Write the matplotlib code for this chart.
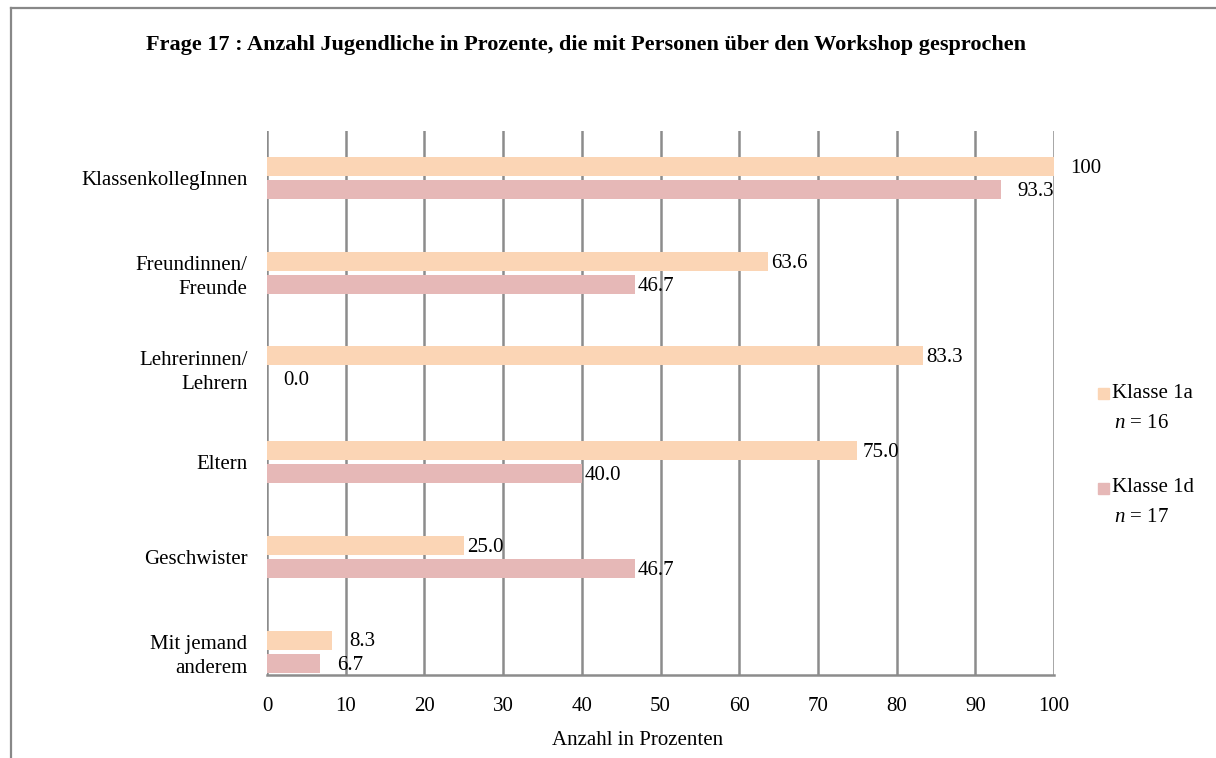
import matplotlib
matplotlib.use("Agg")
import matplotlib.pyplot as plt
from matplotlib.lines import Line2D
from matplotlib.patches import Rectangle
import numpy as np

# Survey answers: share of pupils (in %) who talked with each group about the workshop
categories = ["KlassenkollegInnen", "Freundinnen/\nFreunde", "Lehrerinnen/\nLehrern",
              "Eltern", "Geschwister", "Mit jemand\nanderem"]
klasse_1a = [100, 63.6, 83.3, 75.0, 25.0, 8.3]
klasse_1d = [93.3, 46.7, 0.0, 40.0, 46.7, 6.7]
label_1a = ["100", "63.6", "83.3", "75.0", "25.0", "8.3"]
label_1d = ["93.3", "46.7", "0.0", "40.0", "46.7", "6.7"]
series_names = ["Klasse 1a", "Klasse 1d"]
series_n = [16, 17]
x_ticks = list(range(0, 101, 10))

title = "Frage 17 : Anzahl Jugendliche in Prozente, die mit Personen über den Workshop gesprochen"
x_label = "Anzahl in Prozenten"

# styling
FONT = "Liberation Serif"
C_1A = "#FBD5B5"
C_1D = "#E6B8B7"
GRID = "#8C8C8C"
FS = 15
# horizontal gap (pixels) between bar end and its value label
pad_1a = [16, 4, 4, 5, 3, 17]
pad_1d = [16, 3, 16, 3, 3, 17]

plt.rcParams["font.family"] = [FONT, "DejaVu Serif"]
plt.rcParams["mathtext.fontset"] = "custom"
plt.rcParams["mathtext.rm"] = FONT
plt.rcParams["mathtext.it"] = FONT + ":italic"

W, H = 1216, 758
fig = plt.figure(figsize=(W / 100, H / 100), dpi=100)

# outer chart frame (left and top edges)
fig.add_artist(Line2D([11 / W, 11 / W], [0, 1 - 8 / H], transform=fig.transFigure,
                      color="#888888", lw=1.6))
fig.add_artist(Line2D([11 / W, 1], [1 - 8 / H, 1 - 8 / H], transform=fig.transFigure,
                      color="#888888", lw=1.6))

ax_l, ax_r, ax_t, ax_b = 267, 1054, 131, 675
ax = fig.add_axes([ax_l / W, 1 - ax_b / H, (ax_r - ax_l) / W, (ax_b - ax_t) / H])

y = np.arange(len(categories))
bar_h = 19 / 94.7
gap = 4 / 94.7
y_1a = y - (bar_h + gap) / 2
y_1d = y + (bar_h + gap) / 2

ax.barh(y_1a, klasse_1a, height=bar_h, color=C_1A, zorder=3)
ax.barh(y_1d, klasse_1d, height=bar_h, color=C_1D, zorder=3)

px = 100 / (ax_r - ax_l)  # data units per pixel along x
dy = 2 / 94.7  # nudge labels slightly downward
for yi, v, t, p in zip(y_1a, klasse_1a, label_1a, pad_1a):
    ax.text(v + p * px, yi + dy, t, va="center", ha="left", fontsize=FS, zorder=4)
for yi, v, t, p in zip(y_1d, klasse_1d, label_1d, pad_1d):
    ax.text(v + p * px, yi + dy, t, va="center", ha="left", fontsize=FS, zorder=4)

ax.set_xlim(0, 100)
ax.set_ylim(5 + 23.5 / 94.7, -47 / 94.7)
ax.set_xticks(x_ticks)
ax.set_xticklabels([str(t) for t in x_ticks], fontsize=FS)
ax.set_yticks(y)
ax.set_yticklabels(categories, fontsize=FS, linespacing=1.35)
ax.tick_params(axis="both", length=0)
ax.tick_params(axis="x", pad=16)
ax.tick_params(axis="y", pad=14)

ax.grid(axis="x", color=GRID, lw=1.8, zorder=1)
for s in ["top", "right", "left"]:
    ax.spines[s].set_visible(False)
ax.spines["bottom"].set_color(GRID)
ax.spines["bottom"].set_linewidth(1.8)

ax.set_xlabel(x_label, fontsize=FS)
ax.xaxis.set_label_coords((638 - ax_l) / (ax_r - ax_l), -(731 - ax_b) / (ax_b - ax_t))

fig.text(586 / W, 1 - 45 / H, title, ha="center", va="center",
         fontsize=16, fontweight="bold")

# legend with sample sizes
for i, (name, n, c) in enumerate(zip(series_names, series_n, [C_1A, C_1D])):
    y0 = 393 + i * 95
    fig.add_artist(Rectangle((1098 / W, 1 - (y0 + 6) / H), 11 / W, 11 / H,
                             transform=fig.transFigure, color=c))
    fig.text(1112 / W, 1 - y0 / H, name, ha="left", va="center", fontsize=FS)
    fig.text(1114 / W, 1 - (y0 + 30) / H, f"$\\mathit{{n}}$ = {n}", ha="left",
             va="center", fontsize=FS)

fig.savefig("out.png", dpi=100)
